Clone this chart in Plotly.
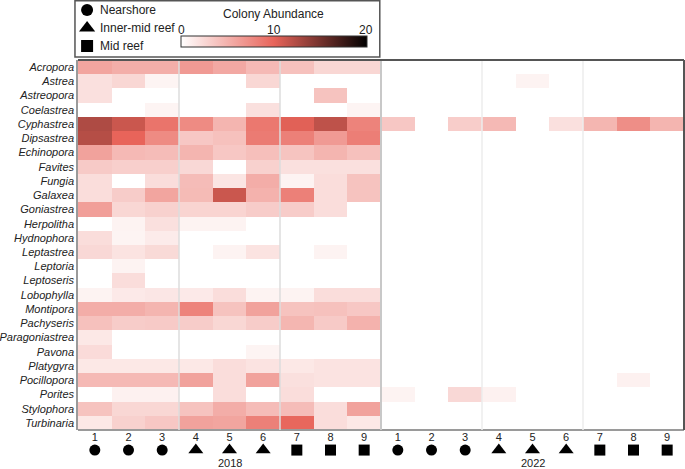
import plotly.graph_objects as go

genera = ["Acropora", "Astrea", "Astreopora", "Coelastrea", "Cyphastrea", "Dipsastrea",
          "Echinopora", "Favites", "Fungia", "Galaxea", "Goniastrea", "Herpolitha",
          "Hydnophora", "Leptastrea", "Leptoria", "Leptoseris", "Lobophylla", "Montipora",
          "Pachyseris", "Paragoniastrea", "Pavona", "Platygyra", "Pocillopora", "Porites",
          "Stylophora", "Turbinaria"]

site_labels = ["1", "2", "3", "4", "5", "6", "7", "8", "9"]
site_types = ["Nearshore"] * 3 + ["Inner-mid reef"] * 3 + ["Mid reef"] * 3
years = ["2018", "2022"]

# Colony abundance, sites 1-9, per genus
abund_2018 = {
    "Acropora":       [5.8, 5.2, 5.2, 6.5, 5.6, 4.5, 4.0, 2.6, 2.6],
    "Astrea":         [2.0, 2.6, 0.7, 0, 0, 2.6, 0, 0, 0],
    "Astreopora":     [2.0, 0, 0, 0, 0, 0, 0, 3.9, 0],
    "Coelastrea":     [0, 0, 0.7, 0, 0, 2.0, 0, 0, 0.7],
    "Cyphastrea":     [12.5, 11.3, 9.0, 7.5, 4.8, 8.7, 10.3, 11.8, 8.0],
    "Dipsastrea":     [12.2, 10.0, 7.5, 3.6, 4.0, 8.5, 8.2, 6.5, 8.3],
    "Echinopora":     [6.0, 4.5, 4.3, 4.8, 3.6, 4.1, 3.8, 4.8, 4.0],
    "Favites":        [3.4, 3.1, 3.1, 2.5, 0, 3.0, 2.0, 2.0, 2.0],
    "Fungia":         [2.2, 0, 2.2, 4.3, 1.7, 5.3, 0.8, 2.2, 3.9],
    "Galaxea":        [2.2, 3.3, 5.8, 4.4, 11.3, 5.0, 8.2, 2.2, 3.9],
    "Goniastrea":     [6.2, 2.6, 3.0, 2.8, 2.8, 3.3, 3.3, 2.2, 0],
    "Herpolitha":     [0, 0.8, 2.0, 0.8, 0.8, 0, 0, 0, 0],
    "Hydnophora":     [2.2, 0.7, 1.3, 0, 0, 0, 0, 0, 0],
    "Leptastrea":     [2.5, 1.8, 2.4, 0, 0.8, 1.8, 0, 0.8, 0],
    "Leptoria":       [0, 0.8, 0, 0, 0, 0, 0, 0, 0],
    "Leptoseris":     [0, 2.2, 0, 0, 0, 0, 0, 0, 0],
    "Lobophylla":     [0.8, 1.4, 1.6, 1.4, 2.2, 0.8, 0.8, 2.2, 2.2],
    "Montipora":      [5.3, 5.3, 4.8, 8.0, 3.9, 6.0, 3.9, 4.0, 3.6],
    "Pachyseris":     [4.0, 3.3, 3.4, 3.3, 2.6, 3.3, 4.7, 3.4, 5.0],
    "Paragoniastrea": [1.5, 0, 0, 0, 0, 0, 0, 0, 0],
    "Pavona":         [2.3, 0, 0, 0, 0, 0.7, 0, 0, 0],
    "Platygyra":      [1.5, 1.5, 1.5, 1.5, 2.2, 1.8, 1.5, 1.8, 1.8],
    "Pocillopora":    [4.5, 4.5, 4.5, 6.0, 2.2, 6.0, 2.0, 1.8, 1.8],
    "Porites":        [0, 0.9, 0.9, 0, 2.2, 0, 2.2, 0, 0],
    "Stylophora":     [3.9, 2.6, 2.6, 3.9, 5.3, 4.3, 4.3, 2.2, 6.0],
    "Turbinaria":     [1.5, 3.0, 3.6, 6.0, 5.8, 8.2, 9.8, 2.2, 1.5],
}

abund_2022 = {
    "Astrea":      [0, 0, 0, 0, 0.8, 0, 0, 0, 0],
    "Cyphastrea":  [3.6, 0, 3.2, 4.5, 0, 2.0, 4.7, 7.3, 4.8],
    "Pocillopora": [0, 0, 0, 0, 0, 0, 0, 0.9, 0],
    "Porites":     [0.8, 0, 2.5, 0.9, 0, 0, 0, 0, 0],
}

legend_names = ["Nearshore", "Inner-mid reef", "Mid reef"]
legend_symbols = ["circle", "triangle-up", "square"]
legend_rows = [0.833, 0.533, 0.233]

zero_row = [0] * 9
z = [abund_2018[g] + abund_2022.get(g, zero_row) for g in genera]
n_cols = len(site_labels) * len(years)
xcols = list(range(n_cols))
ticktext = site_labels * len(years)
types_all = site_types * len(years)
symbol_map = dict(zip(legend_names, legend_symbols))
size_map = {"circle": 11, "triangle-up": 13, "square": 11}

FONT = "Liberation Sans, Arial, sans-serif"
H = 469.0
def py(px):  # pixel row -> paper y (margins t=b=0)
    return (H - px) / H

hm_bot, hm_top = py(430), py(60)

fig = go.Figure()
fig.add_trace(go.Heatmap(
    z=z, x=xcols, y=genera, zmin=0, zmax=20,
    colorscale=[[0, "#ffffff"], [0.5, "#e8645a"], [1, "#000000"]],
    hoverongaps=False,
    colorbar=dict(orientation="h", x=0.323, xanchor="center", xref="paper",
                  y=py(36), yanchor="top", yref="paper",
                  len=186, lenmode="pixels", thickness=11,
                  xpad=0, ypad=0, outlinewidth=1, outlinecolor="#333333",
                  showticklabels=False, ticks=""),
))

# site-type markers under the columns
syms_all = [symbol_map[t] for t in types_all]
fig.add_trace(go.Scatter(
    x=xcols, y=[0.5] * n_cols, xaxis="x", yaxis="y2", mode="markers",
    marker=dict(symbol=syms_all, size=[size_map[s] for s in syms_all], color="black",
                opacity=1, line=dict(width=0)),
    showlegend=False, hoverinfo="skip",
))

# manual legend markers
fig.add_trace(go.Scatter(
    x=[0.03] * 3, y=legend_rows, xaxis="x3", yaxis="y3", mode="markers",
    marker=dict(symbol=legend_symbols, size=[size_map[s] + 1 for s in legend_symbols],
                color="black", opacity=1, line=dict(width=0)),
    showlegend=False, hoverinfo="skip",
))

shapes = []
for xb, col, w in [(2.5, "#dcdcdc", 1.5), (5.5, "#dcdcdc", 1.5), (8.5, "#c8c8c8", 2),
                   (11.5, "#ececec", 1.5), (14.5, "#ececec", 1.5)]:
    shapes.append(dict(type="line", xref="x", yref="paper", x0=xb, x1=xb,
                       y0=hm_bot, y1=hm_top, line=dict(color=col, width=w), layer="above"))
shapes.append(dict(type="line", xref="paper", yref="paper", x0=0, x1=1, y0=hm_top, y1=hm_top,
                   line=dict(color="#555555", width=2)))
shapes.append(dict(type="line", xref="paper", yref="paper", x0=1, x1=1, y0=hm_bot, y1=hm_top,
                   line=dict(color="#555555", width=2)))
shapes.append(dict(type="rect", xref="paper", yref="paper", x0=-0.005, x1=0.498,
                   y0=py(57), y1=py(0.8), line=dict(color="#555555", width=1.5),
                   fillcolor="rgba(0,0,0,0)"))

annotations = [
    dict(text="Colony Abundance", x=0.323, y=py(14), xref="paper", yref="paper",
         xanchor="center", yanchor="middle",
         showarrow=False, font=dict(size=12, color="#222", family=FONT)),
]
for val, xp in [("0", 0.170), ("10", 0.323), ("20", 0.475)]:
    annotations.append(dict(text=val, x=xp, y=py(30), xref="paper", yref="paper",
                            xanchor="center", yanchor="middle",
                            showarrow=False, font=dict(size=12, color="#222", family=FONT)))
for name, yv in zip(legend_names, legend_rows):
    annotations.append(dict(text=name, x=0.066, y=yv, xref="x3", yref="y3",
                            xanchor="left", yanchor="middle", showarrow=False,
                            font=dict(size=12, color="#222", family=FONT)))
for i, yr in enumerate(years):
    annotations.append(dict(text=yr, x=4 + 9 * i, y=py(463), xref="x", yref="paper",
                            xanchor="center", yanchor="middle",
                            showarrow=False, font=dict(size=11, color="#222", family=FONT)))

fig.update_layout(
    width=685, height=469,
    margin=dict(l=78, r=1, t=0, b=0, autoexpand=False),
    plot_bgcolor="white", paper_bgcolor="white",
    font=dict(family=FONT, color="#222", size=11),
    showlegend=False,
    xaxis=dict(tickvals=xcols, ticktext=ticktext, range=[-0.5, n_cols - 0.5],
               anchor="free", position=hm_bot, ticklabelstandoff=-3,
               showline=True, linecolor="#9a9a9a", linewidth=1.5, ticks="",
               showgrid=False, zeroline=False, tickfont=dict(size=11)),
    yaxis=dict(domain=[hm_bot, hm_top], anchor="x", autorange="reversed",
               showline=True, linecolor="#9a9a9a", linewidth=1.5,
               ticks="", showgrid=False, tickfont=dict(size=11, style="italic")),
    yaxis2=dict(domain=[0, hm_bot], anchor="x", range=[0, 1.03], visible=False),
    xaxis3=dict(domain=[0, 0.5], anchor="y3", range=[0, 1], visible=False),
    yaxis3=dict(domain=[hm_top, 1], anchor="x3", range=[0, 1], visible=False),
    shapes=shapes, annotations=annotations,
)

fig.write_html("out.html", config={"displayModeBar": False},
               post_script="document.body.style.margin='0';document.body.style.overflow='hidden';")
